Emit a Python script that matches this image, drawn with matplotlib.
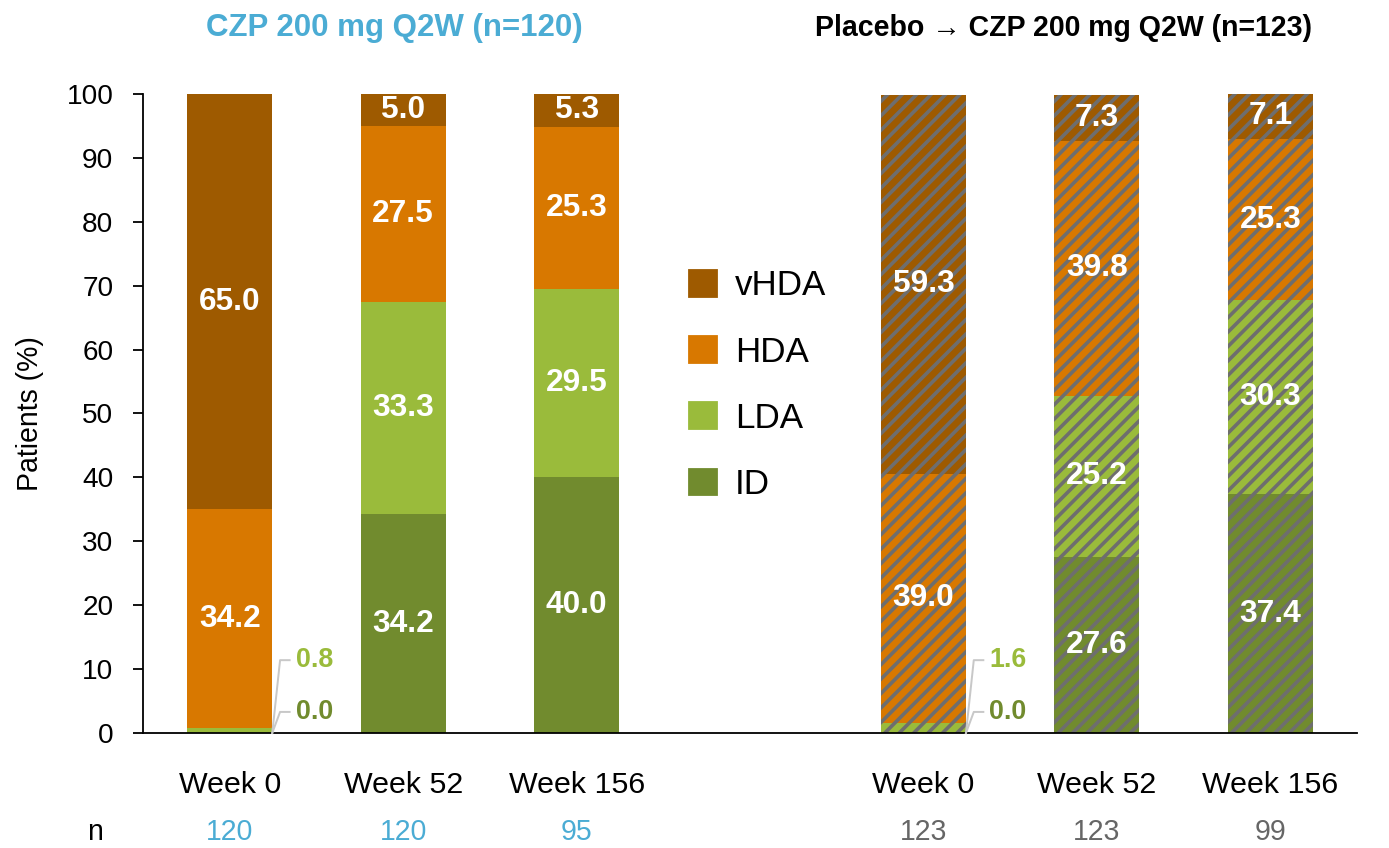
import matplotlib
matplotlib.use('Agg')
import matplotlib.pyplot as plt
from matplotlib.patches import Patch
import numpy as np

plt.rcParams['font.family'] = ['Liberation Sans', 'DejaVu Sans']
plt.rcParams['hatch.linewidth'] = 2.0

# data
weeks = ['Week 0', 'Week 52', 'Week 156']
n_czp = [120, 120, 95]
n_pbo = [123, 123, 99]
categories = ['ID', 'LDA', 'HDA', 'vHDA']

czp_id = [0.0, 34.2, 40.0]
czp_lda = [0.8, 33.3, 29.5]
czp_hda = [34.2, 27.5, 25.3]
czp_vhda = [65.0, 5.0, 5.3]

pbo_id = [0.0, 27.6, 37.4]
pbo_lda = [1.6, 25.2, 30.3]
pbo_hda = [39.0, 39.8, 25.3]
pbo_vhda = [59.3, 7.3, 7.1]

title_czp = 'CZP 200 mg Q2W (n=120)'
title_pbo = 'Placebo \u2192 CZP 200 mg Q2W (n=123)'

# styles
colors = ['#718B2E', '#9ABB3B', '#D87800', '#9E5A00']
blue = '#4BACD4'
grey_txt = '#666666'
hatch_col = '#6E6E6E'
leader_col = '#C8C8C8'
width = 0.49

DPI = 130
fig = plt.figure(figsize=(1389 / DPI, 848 / DPI), dpi=DPI)
ax = fig.add_axes([0.1030, 0.1356, 0.874, 0.7536])

x_czp = np.array([0, 1, 2])
x_pbo = np.array([4, 5, 6])

groups = [
    (x_czp, [czp_id, czp_lda, czp_hda, czp_vhda], None),
    (x_pbo, [pbo_id, pbo_lda, pbo_hda, pbo_vhda], '///'),
]

small_y = [3.3, 11.4]  # label heights for ID / LDA at week 0

for xs, series, hatch in groups:
    bottom = np.zeros(len(xs))
    for vals, color in zip(series, colors):
        vals = np.array(vals)
        ax.bar(xs, vals, width, bottom=bottom, color=color, hatch=hatch,
               edgecolor=hatch_col, linewidth=0)
        for x, b, v in zip(xs, bottom, vals):
            if v >= 3:
                ax.text(x, b + v / 2, f'{v:.1f}', ha='center', va='center',
                        color='white', fontweight='bold', fontsize=17.5)
        bottom = bottom + vals
    # leader labels for the tiny week-0 segments
    x0 = xs[0] + width / 2
    for k in range(2):
        y = small_y[k]
        ax.plot([x0, x0 + 0.045, x0 + 0.1], [0, y, y], color=leader_col,
                lw=1.1, clip_on=False, zorder=3)
        ax.text(x0 + 0.135, y, f'{series[k][0]:.1f}', ha='left', va='center',
                color=colors[k], fontweight='bold', fontsize=14.8)

ax.set_xlim(-0.5, 6.5)
ax.set_ylim(0, 100)
ax.set_yticks(np.arange(0, 101, 10))
ax.set_xticks([])
ax.tick_params(axis='y', length=5.5, width=1.0, pad=11, labelsize=15.5)
for s in ['top', 'right']:
    ax.spines[s].set_visible(False)
for s in ['left', 'bottom']:
    ax.spines[s].set_linewidth(1.0)

ax.set_ylabel('Patients (%)', fontsize=15.8)
ax.yaxis.set_label_coords(-0.0815, 0.5)

tr = ax.get_xaxis_transform()
for xs, ns, col in [(x_czp, n_czp, blue), (x_pbo, n_pbo, grey_txt)]:
    for x, w, n in zip(xs, weeks, ns):
        ax.text(x, -0.0814, w, transform=tr, ha='center', va='center', fontsize=16.8)
        ax.text(x, -0.155, str(n), transform=tr, ha='center', va='center',
                fontsize=15.8, color=col)
fig.text(95 / 1389, 1 - 832 / 848, 'n', ha='center', va='center', fontsize=15.8)

ax.text(0.95, 1.103, title_czp, transform=tr, ha='center', va='center',
        fontsize=17.3, fontweight='bold', color=blue)
ax.text(4.81, 1.103, title_pbo, transform=tr, ha='center', va='center',
        fontsize=15.8, fontweight='bold', color='black')

handles = [Patch(color=c) for c in colors[::-1]]
ax.legend(handles, categories[::-1], loc='upper left', bbox_to_anchor=(0.4498, 0.7256),
          frameon=False, fontsize=19.4, handlelength=0.8, handleheight=0.8,
          handletextpad=0.51, labelspacing=0.95, borderpad=0, borderaxespad=0)

fig.savefig('out.png', dpi=DPI)
